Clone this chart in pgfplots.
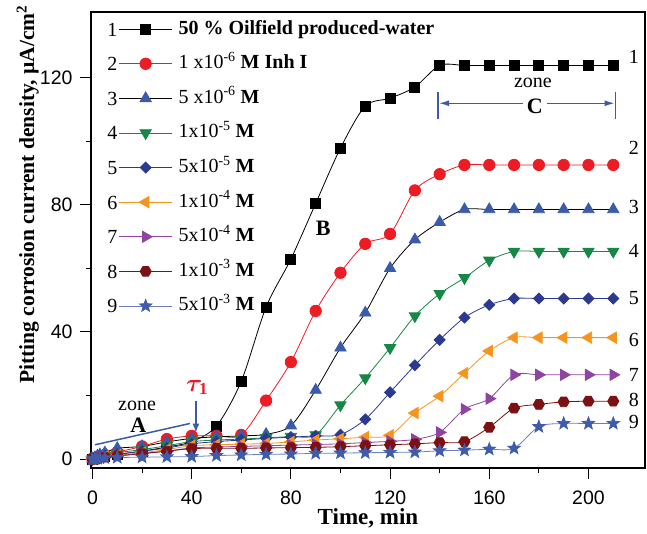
\documentclass[border=0pt]{standalone}
\usepackage{pgfplots}
\pgfplotsset{compat=1.18}
\usepackage{bm}
\usepackage{fontspec}
\setmainfont{Liberation Serif}
\newfontfamily\arial{Liberation Sans}
\usetikzlibrary{arrows.meta}
\definecolor{cred}{RGB}{237,28,36}
\definecolor{cblue}{RGB}{58,91,168}
\definecolor{cgreen}{RGB}{22,135,68}
\definecolor{cnavy}{RGB}{43,57,144}
\definecolor{corange}{RGB}{247,148,29}
\definecolor{cpurple}{RGB}{142,68,160}
\definecolor{cdred}{RGB}{123,17,19}
\definecolor{cstar}{RGB}{62,92,170}
\definecolor{cstarline}{RGB}{105,128,192}
\definecolor{cann}{RGB}{60,90,168}

\pgfdeclareplotmark{hexagon*}{%
  \pgfpathmoveto{\pgfpointpolar{0}{\pgfplotmarksize}}%
  \pgfpathlineto{\pgfpointpolar{60}{\pgfplotmarksize}}%
  \pgfpathlineto{\pgfpointpolar{120}{\pgfplotmarksize}}%
  \pgfpathlineto{\pgfpointpolar{180}{\pgfplotmarksize}}%
  \pgfpathlineto{\pgfpointpolar{240}{\pgfplotmarksize}}%
  \pgfpathlineto{\pgfpointpolar{300}{\pgfplotmarksize}}%
  \pgfpathclose\pgfusepathqfillstroke}
\pgfdeclareplotmark{fstar}{%
  \pgfpathmoveto{\pgfpointpolar{90}{\pgfplotmarksize}}%
  \pgfpathlineto{\pgfpointpolar{126}{0.42\pgfplotmarksize}}%
  \pgfpathlineto{\pgfpointpolar{162}{\pgfplotmarksize}}%
  \pgfpathlineto{\pgfpointpolar{198}{0.42\pgfplotmarksize}}%
  \pgfpathlineto{\pgfpointpolar{234}{\pgfplotmarksize}}%
  \pgfpathlineto{\pgfpointpolar{270}{0.42\pgfplotmarksize}}%
  \pgfpathlineto{\pgfpointpolar{306}{\pgfplotmarksize}}%
  \pgfpathlineto{\pgfpointpolar{342}{0.42\pgfplotmarksize}}%
  \pgfpathlineto{\pgfpointpolar{18}{\pgfplotmarksize}}%
  \pgfpathlineto{\pgfpointpolar{54}{0.42\pgfplotmarksize}}%
  \pgfpathclose\pgfusepathqfillstroke}

\newcommand\legfont{\fontsize{20}{24}\selectfont}
\pgfplotsset{numleg/.style={legend image code/.code={%
  \node[anchor=base east,inner sep=0pt,font=\legfont,text=black,text height=,text depth=] at (-1.5pt,-7pt) {\color{black}#1};%
  \draw[mark repeat=2,mark phase=2,##1] plot coordinates {(0pt,0pt) (26.5pt,0pt) (53pt,0pt)};}}}

\pgfplotstableread{
x s1 s2 s3 s4 s5 s6 s7 s8 s9
0 0 0 0 0 0 0 0 0 0
1 0.3 0.4 0.5 0.3 0.3 0.2 0.2 0.2 0.1
2 0.5 0.7 1.0 0.6 0.5 0.4 0.3 0.3 0.2
3 0.8 1.0 1.4 0.9 0.8 0.6 0.5 0.4 0.3
5 1.0 1.3 2.0 1.2 1.0 0.8 0.7 0.6 0.4
10 1.5 2.2 3.4 2.0 1.5 1.2 1.0 1.0 0.5
20 2.5 4.0 4.0 3.0 2.5 2.0 1.8 1.7 0.6
30 3.8 6.3 5.4 4.2 3.5 3.0 2.5 2.5 0.7
40 5.5 7.3 6.5 5.5 4.8 4.2 3.5 3.3 0.8
50 10.4 7.3 7.0 6.0 5.5 4.5 3.8 3.4 1.1
60 24.5 7.6 7.3 6.3 6.0 4.7 4.0 3.4 1.3
70 47.8 18.4 7.8 6.7 6.5 4.9 4.2 3.5 1.5
80 62.9 30.5 10.5 7.1 6.9 5.4 4.4 3.6 1.6
90 80.4 46.6 21.7 7.6 7.3 6.0 4.6 3.7 1.8
100 97.8 58.6 35.0 17.0 7.7 6.4 4.8 3.9 1.9
110 111.0 67.7 46.0 25.5 12.5 6.9 5.2 4.2 2.0
120 113.5 70.8 60.0 35.0 21.0 7.5 5.6 4.5 2.1
130 117.0 84.5 69.0 45.0 29.5 14.5 6.2 4.8 2.2
140 123.8 89.6 74.5 52.0 37.5 19.8 8.4 5.2 2.6
150 123.8 92.5 78.5 57.0 44.5 27.0 15.7 5.5 2.8
160 123.8 92.5 78.5 62.5 48.5 34.0 19.0 10.0 3.1
170 123.8 92.5 78.5 65.3 50.5 38.2 26.5 16.0 3.4
180 123.8 92.5 78.5 65.3 50.5 38.2 26.5 17.2 10.2
190 123.8 92.5 78.5 65.3 50.5 38.2 26.5 18.0 11.2
200 123.8 92.5 78.5 65.3 50.5 38.2 26.5 18.2 11.2
210 123.8 92.5 78.5 65.3 50.5 38.2 26.5 18.2 11.2
}\datatable

\begin{document}
\begin{tikzpicture}
\useasboundingbox (-91pt,-65pt) rectangle (556pt,468pt);
\begin{axis}[
  at={(0pt,0pt)}, anchor=south west,
  scale only axis, width=554pt, height=456pt,
  xmin=-0.6, xmax=222.8, ymin=-2.8, ymax=140.6,
  xtick={0,40,...,200}, ytick={0,40,80,120},
  minor x tick num=1, minor y tick num=1,
  tick pos=left, tick align=outside,
  major tick length=11pt, minor tick length=5pt,
  every tick/.style={black, line width=1pt},
  axis line style={line width=1.2pt},
  tick label style={font=\arial\fontsize{19.5}{22}\selectfont},
  xticklabel style={yshift=-8pt},
  yticklabel style={xshift=-4pt},
  /pgf/number format/assume math mode=true,
  xlabel={\bfseries Time, min},
  ylabel={\bfseries Pitting corrosion current density, µA/cm\textsuperscript{2}},
  xlabel style={font=\fontsize{23}{27}\selectfont, at={(axis description cs:0.5,-0.11)}, anchor=center},
  ylabel style={font=\fontsize{21.5}{25}\selectfont, at={(axis description cs:-0.114,0.6)}, anchor=center},
  clip=false,
  legend style={draw=none, fill=none, at={(axis description cs:0.029,0.9825)}, anchor=north west,
    inner sep=0pt, row sep=16.6pt, column sep=6pt, font=\legfont,
    nodes={inner sep=0pt, text height=14pt, text depth=4pt}},
  legend cell align=left,
]
\addplot[black, line width=0.8pt, smooth, mark=square*, mark size=5pt, mark options={fill=black}, numleg=1] table[x=x,y=s1] {\datatable};
\addlegendentry{\textbf{50 \% Oilfield produced-water}}
\addplot[cred, line width=0.8pt, smooth, mark=*, mark size=5.7pt, mark options={fill=cred}, numleg=2] table[x=x,y=s2] {\datatable};
\addlegendentry{1 x10\textsuperscript{-6} \textbf{M Inh I}}
\addplot[black, line width=0.8pt, smooth, mark=triangle*, mark size=6.5pt, mark options={draw=cblue, fill=cblue}, numleg=3] table[x=x,y=s3] {\datatable};
\addlegendentry{5 x10\textsuperscript{-6} \textbf{M}}
\addplot[cgreen, line width=0.8pt, smooth, mark=triangle*, mark size=6.5pt, mark options={fill=cgreen, rotate=180}, numleg=4] table[x=x,y=s4] {\datatable};
\addlegendentry{1x10\textsuperscript{-5} \textbf{M}}
\addplot[cnavy, line width=0.8pt, smooth, mark=square*, mark size=3.9pt, mark options={fill=cnavy, rotate=45}, numleg=5] table[x=x,y=s5] {\datatable};
\addlegendentry{5x10\textsuperscript{-5} \textbf{M}}
\addplot[corange, line width=0.8pt, smooth, mark=triangle*, mark size=6.5pt, mark options={fill=corange, rotate=90}, numleg=6] table[x=x,y=s6] {\datatable};
\addlegendentry{1x10\textsuperscript{-4} \textbf{M}}
\addplot[cpurple, line width=0.8pt, smooth, mark=triangle*, mark size=6.5pt, mark options={fill=cpurple, rotate=-90}, numleg=7] table[x=x,y=s7] {\datatable};
\addlegendentry{5x10\textsuperscript{-4} \textbf{M}}
\addplot[cdred, line width=0.8pt, smooth, mark=hexagon*, mark size=5.6pt, mark options={fill=cdred}, numleg=8] table[x=x,y=s8] {\datatable};
\addlegendentry{1x10\textsuperscript{-3} \textbf{M}}
\addplot[cstarline, line width=0.8pt, smooth, mark=fstar, mark size=6.5pt, mark options={draw=cstar, fill=cstar}, numleg=9] table[x=x,y=s9] {\datatable};
\addlegendentry{5x10\textsuperscript{-3} \textbf{M}}

% zone A
\node[font=\legfont] at (axis cs:18,16.7) {zone};
\node[font=\bfseries\fontsize{22}{26}\selectfont] at (axis cs:18.5,10.7) {A};
\draw[cann, line width=1.5pt] (axis cs:1,4.5) -- (axis cs:39.3,11.2);
\draw[cann, line width=1.5pt, -{Latex[length=9pt,width=7pt]}] (axis cs:41.7,18.3) -- (axis cs:41.7,8.3);
\node[cred, font=\fontsize{24}{28}\selectfont] at (axis cs:42.2,22.5) {$\bm{\tau}_{\mathbf{1}}$};
% B
\node[font=\bfseries\fontsize{22}{26}\selectfont] at (axis cs:93,72.6) {B};
% zone C
\node[font=\legfont] at (axis cs:177.6,118.2) {zone};
\node[font=\bfseries\fontsize{22}{26}\selectfont] at (axis cs:178.4,110.9) {C};
\draw[cann, line width=1.2pt] (axis cs:139.3,107) -- (axis cs:139.3,115.3);
\draw[cann, line width=1.2pt] (axis cs:211,107) -- (axis cs:211,115.3);
\draw[cann, line width=1.2pt, -{Latex[length=10pt,width=6pt]}] (axis cs:173.6,111.9) -- (axis cs:139.8,111.9);
\draw[cann, line width=1.2pt, -{Latex[length=10pt,width=6pt]}] (axis cs:183.3,111.9) -- (axis cs:210.5,111.9);
% curve numbers
\node[font=\legfont] at (axis cs:218.3,126.4) {1};
\node[font=\legfont] at (axis cs:218.3,97.8) {2};
\node[font=\legfont] at (axis cs:218.3,79.2) {3};
\node[font=\legfont] at (axis cs:218.3,65.4) {4};
\node[font=\legfont] at (axis cs:218.3,50.6) {5};
\node[font=\legfont] at (axis cs:218.3,37.4) {6};
\node[font=\legfont] at (axis cs:218.3,26.4) {7};
\node[font=\legfont] at (axis cs:218.3,18.6) {8};
\node[font=\legfont] at (axis cs:218.3,11.6) {9};
\end{axis}
\end{tikzpicture}
\end{document}
